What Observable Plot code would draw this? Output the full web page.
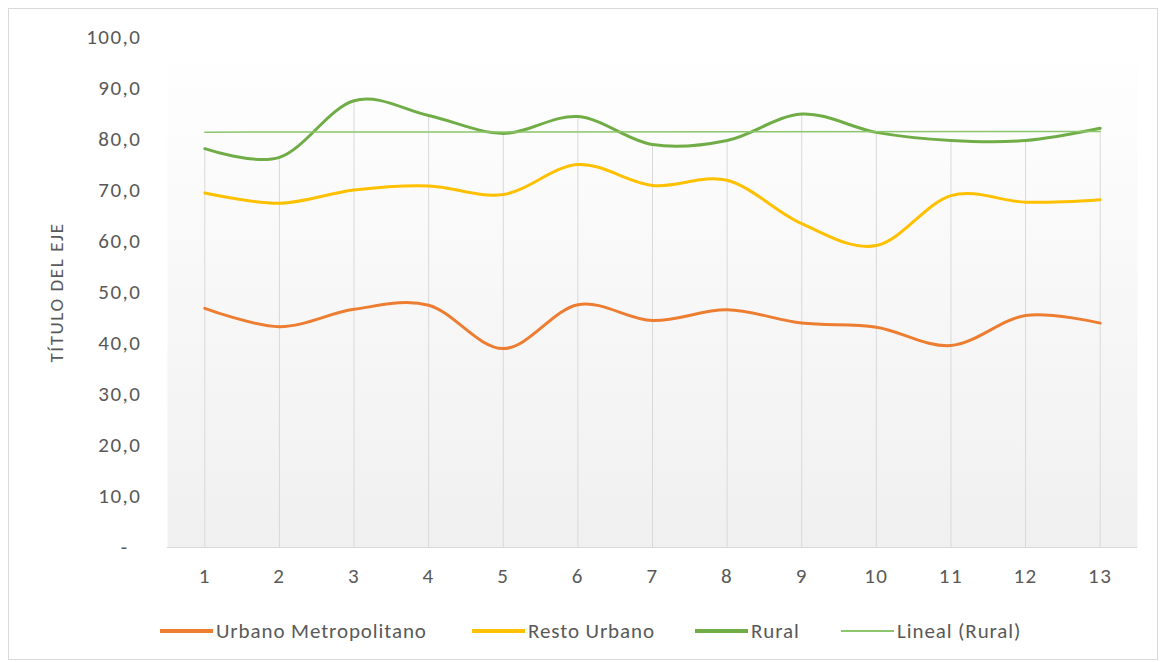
<!DOCTYPE html>
<html>
<head>
<meta charset="utf-8">
<script src="https://cdn.jsdelivr.net/npm/d3@7"></script>
<script src="https://cdn.jsdelivr.net/npm/@observablehq/plot@0.6"></script>
<style>
  body { margin: 0; background: #fff; }
  #frame { position: absolute; left: 8px; top: 8px; width: 1148px; height: 650px; border: 1px solid #d9d9d9; }
  #chart { position: absolute; left: 0; top: 0; }
  .item { position: absolute; top: 618px; height: 26px; display: flex; align-items: center;
          font-family: Carlito, "Liberation Sans Narrow", "DejaVu Sans Condensed", sans-serif;
          font-size: 21px; letter-spacing: 0.9px; color: #595959; white-space: nowrap; }
  .sw { width: 53px; margin-right: 3px; }
</style>
</head>
<body>
<div id="frame"></div>
<div id="chart"></div>
<div id="legend"></div>
<script>
const categories = [1, 2, 3, 4, 5, 6, 7, 8, 9, 10, 11, 12, 13];
const urbanoMetropolitano = [46.9, 43.3, 46.7, 47.5, 39.0, 47.6, 44.5, 46.6, 44.0, 43.2, 39.6, 45.5, 44.0];
const restoUrbano = [69.5, 67.5, 70.1, 70.9, 69.2, 75.1, 71.0, 72.0, 63.5, 59.2, 69.0, 67.7, 68.2];
const rural = [78.2, 76.5, 87.6, 84.7, 81.2, 84.5, 79.0, 79.8, 85.0, 81.4, 79.8, 79.8, 82.2];
const yTicks = [0, 10, 20, 30, 40, 50, 60, 70, 80, 90, 100];
const seriesNames = ["Urbano Metropolitano", "Resto Urbano", "Rural", "Lineal (Rural)"];
const seriesColors = ["#ed7d31", "#ffc000", "#70ad47", "#8cc56b"];
const axisTitle = "TÍTULO DEL EJE";

const rows = categories.map((c, i) => ({ c, um: urbanoMetropolitano[i], ru: restoUrbano[i], r: rural[i] }));
const font = 'Carlito, "Liberation Sans Narrow", "DejaVu Sans Condensed", sans-serif';

const chart = Plot.plot({
  width: 1163,
  height: 600,
  marginLeft: 167,
  marginRight: 26,
  marginTop: 37,
  marginBottom: 53,
  style: { fontFamily: font, fontSize: "21px", color: "#595959", background: "transparent", letterSpacing: "1.5px" },
  x: { type: "linear", domain: [0.5, 13.5] },
  y: { domain: [0, 100] },
  marks: [
    Plot.frame({ fill: "url(#bgGrad)", stroke: "none" }),
    Plot.ruleX(rows, { x: "c", y1: 0, y2: "r", stroke: "#d9d9d9", strokeWidth: 1 }),
    Plot.ruleY([0], { stroke: "#d9d9d9", strokeWidth: 1.2 }),
    Plot.axisY({ ticks: yTicks, tickSize: 0, tickPadding: 26, label: null,
      tickFormat: d => d === 0 ? "-\u2007" : d.toFixed(1).replace(".", ",") }),
    Plot.axisX({ ticks: categories, tickSize: 0, tickPadding: 21, label: null, tickFormat: d => String(d) }),
    Plot.text([axisTitle], { frameAnchor: "left", dx: -111, rotate: -90, textAnchor: "middle",
      fontSize: 19, fill: "#595959" }),
    Plot.line(rows, { x: "c", y: "um", stroke: seriesColors[0], strokeWidth: 3, curve: "cardinal" }),
    Plot.line(rows, { x: "c", y: "ru", stroke: seriesColors[1], strokeWidth: 3, curve: "cardinal" }),
    Plot.line(rows, { x: "c", y: "r", stroke: seriesColors[2], strokeWidth: 3, curve: "cardinal" }),
    Plot.linearRegressionY(rows, { x: "c", y: "r", stroke: seriesColors[3], strokeWidth: 1.5, ci: 0 })
  ]
});

const defs = d3.select(chart).insert("defs", ":first-child");
const grad = defs.append("linearGradient").attr("id", "bgGrad").attr("x1", 0).attr("y1", 0).attr("x2", 0).attr("y2", 1);
grad.append("stop").attr("offset", 0).attr("stop-color", "#ffffff");
grad.append("stop").attr("offset", 1).attr("stop-color", "#f0f0f0");
d3.select(chart).selectAll("text").filter(function () { return this.textContent === axisTitle; })
  .style("letter-spacing", "1.6px");
document.getElementById("chart").appendChild(chart);

const legendLeft = [160, 472, 695, 841];
const swatchWidths = [4, 4, 4, 1.5];
const legend = document.getElementById("legend");
seriesNames.forEach((name, i) => {
  const item = document.createElement("div");
  item.className = "item";
  item.style.left = legendLeft[i] + "px";
  const sw = document.createElement("div");
  sw.className = "sw";
  sw.style.height = swatchWidths[i] + "px";
  sw.style.background = seriesColors[i];
  const label = document.createElement("span");
  label.textContent = name;
  item.appendChild(sw);
  item.appendChild(label);
  legend.appendChild(item);
});
</script>
</body>
</html>
